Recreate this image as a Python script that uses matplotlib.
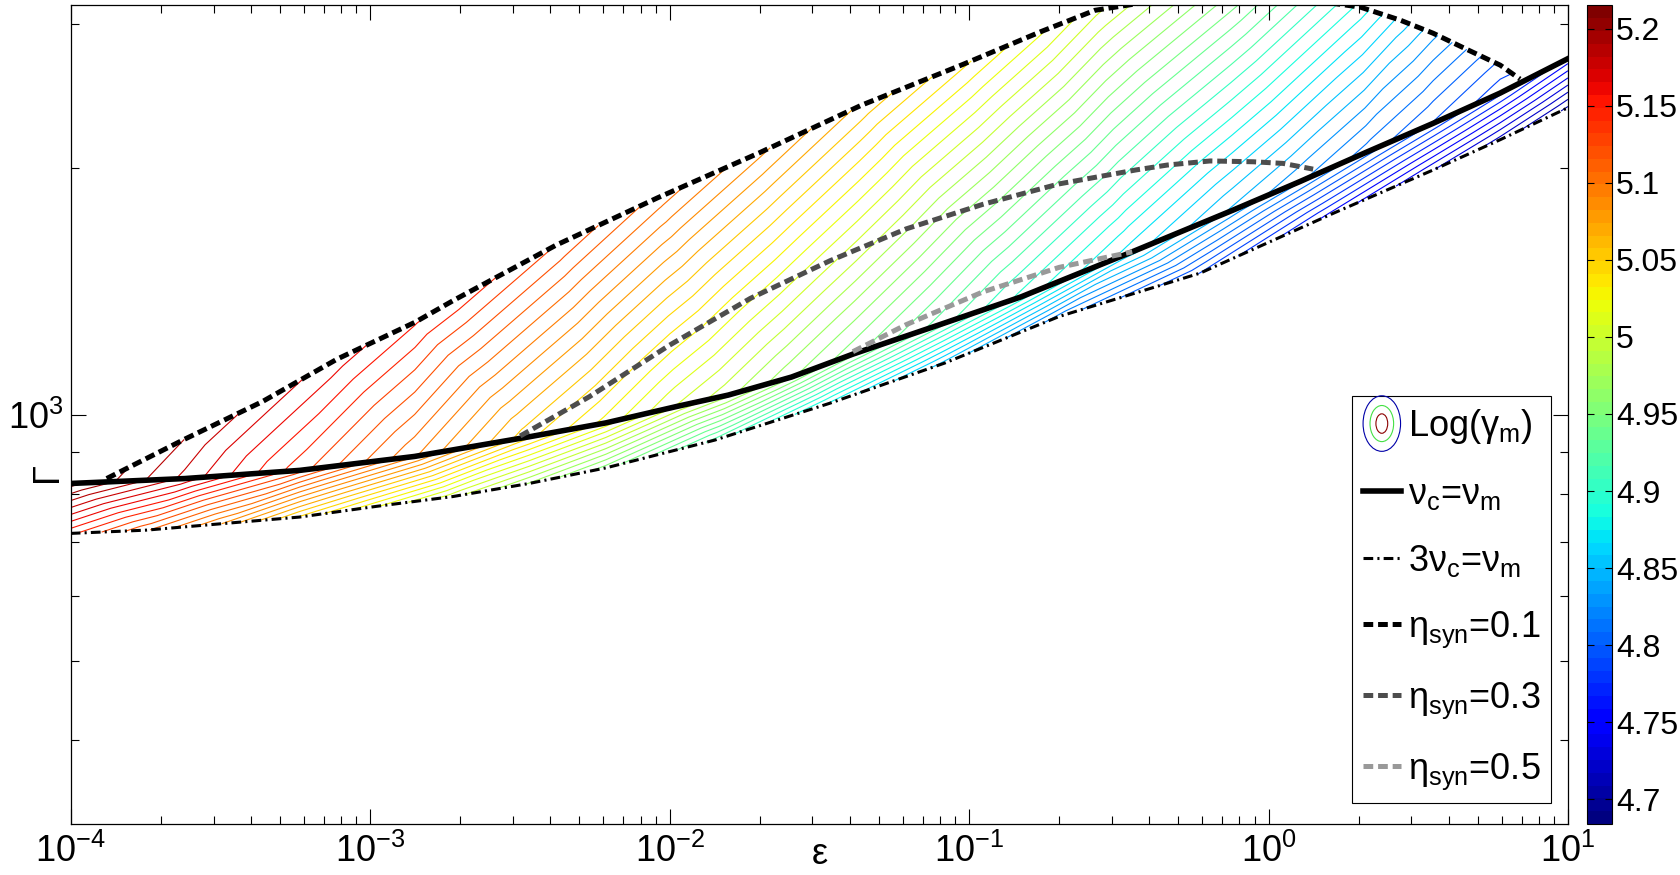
import numpy as np
import matplotlib
matplotlib.use('Agg')
import matplotlib.pyplot as plt
import matplotlib.tri as mtri
from matplotlib.path import Path
from matplotlib.patches import Ellipse
from matplotlib.legend_handler import HandlerBase
from matplotlib.colors import Normalize
from matplotlib.cm import ScalarMappable
from matplotlib.ticker import NullFormatter, FuncFormatter

plt.rcParams['font.family'] = ['Liberation Sans', 'DejaVu Sans']
plt.rcParams['mathtext.fontset'] = 'custom'
plt.rcParams['mathtext.rm'] = 'Liberation Sans'
plt.rcParams['mathtext.it'] = 'Liberation Sans:italic'
plt.rcParams['mathtext.default'] = 'regular'
plt.rcParams['lines.scale_dashes'] = False

# curves: log10(eps), log10(Gamma), and log10(gamma_m) along them
cool_loge = [-4.0, -3.619, -3.235, -2.852, -2.469, -2.213, -1.977, -1.804, -1.593, -1.388,
             -1.082, -0.826, -0.455, -0.118, 0.106, 0.329, 0.55, 0.774, 1.0]
cool_logG = [2.916, 2.922, 2.932, 2.949, 2.973, 2.990, 3.010, 3.024, 3.046, 3.074,
             3.112, 3.144, 3.199, 3.250, 3.285, 3.321, 3.356, 3.393, 3.435]
cool_lgm = [5.21, 5.175, 5.135, 5.095, 5.05, 5.025, 5.0, 4.985, 4.965, 4.948,
            4.92, 4.895, 4.865, 4.84, 4.825, 4.81, 4.795, 4.78, 4.765]

cool3_loge = [-4.0, -3.747, -3.491, -3.235, -2.98, -2.724, -2.469, -2.213, -1.849, -1.465,
              -1.082, -0.699, -0.228, 0.216, 0.55, 0.774, 1.0]
cool3_logG = [2.855, 2.859, 2.867, 2.875, 2.888, 2.900, 2.916, 2.935, 2.969, 3.014,
              3.063, 3.120, 3.173, 3.246, 3.299, 3.336, 3.375]
cool3_lgm = [5.143, 5.114, 5.084, 5.046, 5.021, 4.995, 4.972, 4.950, 4.914, 4.878,
             4.848, 4.820, 4.786, 4.755, 4.731, 4.717, 4.701]

eta1_loge = [-3.88, -3.62, -3.36, -3.11, -2.85, -2.72, -2.38, -2.04, -1.70, -1.36,
             -1.02, -0.76, -0.58, -0.13, 0.306, 0.44, 0.55, 0.664, 0.774, 0.84]
eta1_logG = [2.922, 2.970, 3.016, 3.068, 3.113, 3.140, 3.207, 3.265, 3.320, 3.378,
             3.428, 3.468, 3.494, 3.52, 3.498, 3.482, 3.466, 3.446, 3.427, 3.41]
eta1_lgm = [5.20, 5.187, 5.174, 5.164, 5.151, 5.147, 5.131, 5.109, 5.087, 5.064,
            5.04, 5.021, 5.004, 4.957, 4.886, 4.858, 4.836, 4.814, 4.793, 4.782]

eta3_loge = [-2.499, -2.268, -2.0, -1.731, -1.465, -1.21, -0.954, -0.699, -0.443,
             -0.338, -0.195, -0.051, 0.049, 0.149]
eta3_logG = [2.974, 3.022, 3.085, 3.142, 3.188, 3.227, 3.257, 3.282, 3.299,
             3.305, 3.310, 3.309, 3.307, 3.300]

eta5_loge = [-1.388, -1.21, -0.954, -0.699, -0.455]
eta5_logG = [3.077, 3.110, 3.150, 3.180, 3.199]

cbar_lim = (4.684, 5.215)
cbar_ticks = [4.7, 4.75, 4.8, 4.85, 4.9, 4.95, 5.0, 5.05, 5.1, 5.15, 5.2]
n_levels = 58

FS = 26
jet = matplotlib.colormaps['jet'].resampled(64)
norm = Normalize(*cbar_lim)

fig = plt.figure(figsize=(16.8, 8.75), dpi=100)
ax = fig.add_axes([0.0421, 0.0583, 0.8912, 0.9355])
ax.set_xscale('log')
ax.set_yscale('log')
ax.set_xlim(1e-4, 1e1)
ax.set_ylim(10**2.5, 10**3.5)
to_log = ax.transLimits + ax.transAxes   # takes log10 coordinates


def band(lo_e, lo_g, lo_v, hi_e, hi_g, hi_v):
    e = np.r_[lo_e, hi_e]
    g = np.r_[lo_g, hi_g]
    v = np.r_[lo_v, hi_v]
    d = mtri.Triangulation(e, g * 2.73)
    poly = Path(np.c_[np.r_[lo_e, hi_e[::-1]], np.r_[lo_g, hi_g[::-1]]])
    cen = np.c_[e[d.triangles].mean(1), g[d.triangles].mean(1)]
    t = mtri.Triangulation(e, g, d.triangles, mask=~poly.contains_points(cen, radius=1e-9))
    return t, v


ce, cg, cv = map(np.array, (cool_loge, cool_logG, cool_lgm))
up = ce < eta1_loge[-1]
bands = [band(np.array(cool3_loge), np.array(cool3_logG), np.array(cool3_lgm), ce, cg, cv),
         band(ce[up], cg[up], cv[up], np.array(eta1_loge), np.array(eta1_logG), np.array(eta1_lgm))]
levels = np.linspace(cbar_lim[0], cbar_lim[1], n_levels)
for t, v in bands:
    ax.tricontour(t, v, levels=levels, cmap=jet, norm=norm, linewidths=0.8,
                  transform=to_log, zorder=1)

p = lambda a: 10 ** np.array(a)
l1, = ax.plot(p(cool_loge), p(cool_logG), color='k', lw=4)
l2, = ax.plot(p(cool3_loge), p(cool3_logG), color='k', lw=2.2, ls=(0, (7, 3, 1.5, 3)))
l3, = ax.plot(p(eta1_loge), p(eta1_logG), color='k', lw=3.6, ls=(0, (7, 3.5)))
l4, = ax.plot(p(eta3_loge), p(eta3_logG), color='#4d4d4d', lw=3.6, ls=(0, (7, 3.5)))
l5, = ax.plot(p(eta5_loge), p(eta5_logG), color='#999999', lw=3.6, ls=(0, (7, 3.5)))

ax.tick_params(which='both', direction='in', top=True, right=True, labelsize=FS, width=0.8)
ax.tick_params(which='major', length=11)
ax.tick_params(which='minor', length=6)
ax.tick_params(axis='x', pad=7)
ax.tick_params(axis='y', pad=5)
ax.yaxis.set_minor_formatter(NullFormatter())
for s in ax.spines.values():
    s.set_linewidth(0.9)

ax.set_xlabel('ε', fontsize=FS)
ax.xaxis.set_label_coords(0.5, -0.016)
ax.set_ylabel('Γ', fontsize=FS)
ax.yaxis.set_label_coords(-0.004, 0.43)


class ContourIcon:
    pass


class ContourIconHandler(HandlerBase):
    def create_artists(self, legend, orig_handle, xdescent, ydescent, width, height, fontsize, trans):
        cx = 0.5 * width - xdescent
        cy = 0.5 * height - ydescent
        out = []
        for w, h, c in [(27, 40, '#0000a8'), (17, 26, '#44e044'), (8.5, 14, '#8b0000')]:
            out.append(Ellipse((cx, cy), w, h, fill=False, edgecolor=c, lw=0.8, transform=trans))
        return out


leg = ax.legend([ContourIcon(), l1, l2, l3, l4, l5],
                [r'Log($\gamma_{m}$)', r'$\nu_{c}$=$\nu_{m}$', r'3$\nu_{c}$=$\nu_{m}$',
                 r'$\eta_{syn}$=0.1', r'$\eta_{syn}$=0.3', r'$\eta_{syn}$=0.5'],
                handler_map={ContourIcon: ContourIconHandler()},
                loc='lower right', bbox_to_anchor=(0.989, 0.026), borderaxespad=0,
                fontsize=26, fancybox=False, edgecolor='k', framealpha=1,
                handlelength=1.05, handletextpad=0.2, labelspacing=0.85, borderpad=0.3)
leg.get_frame().set_linewidth(0.8)

cax = fig.add_axes([0.9446, 0.0583, 0.0149, 0.9355])
cb = fig.colorbar(ScalarMappable(norm=norm, cmap=jet), cax=cax, ticks=cbar_ticks)
cax.yaxis.set_major_formatter(FuncFormatter(lambda v, pos: f'{v:g}'))
cax.tick_params(labelsize=23, direction='in', length=5, left=True, right=True, pad=3)
cb.outline.set_linewidth(0.8)

fig.savefig('out.png', dpi=100)
